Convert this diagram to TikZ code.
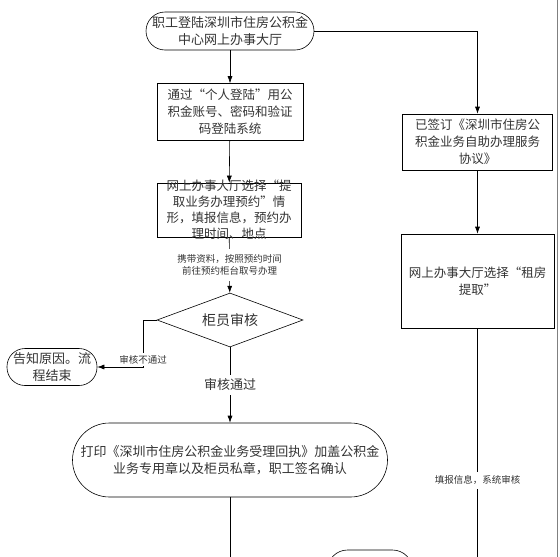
\documentclass[tikz,border=0pt]{standalone}
\usepackage{fontspec}
\setmainfont{Noto Sans CJK SC}
\usetikzlibrary{shapes.geometric,arrows.meta}

\begin{document}
\begin{tikzpicture}[x=1pt,y=-1pt,line width=0.6pt,
  box/.style={draw, align=center, inner sep=0pt, text=black!80, font=\fontsize{12.5}{17}\selectfont},
  term/.style={draw, align=center, inner sep=0pt, text=black!80, font=\fontsize{13}{17}\selectfont},
  check/.style={draw, diamond, aspect=2.7, inner sep=1pt, minimum width=146pt, minimum height=54pt, text=black!80, font=\fontsize{14}{17}\selectfont},
  note/.style={fill=white, align=center, inner sep=2pt, text=black!80, font=\fontsize{9.5}{12}\selectfont},
  arr/.style={-{Latex[length=7pt,width=5pt]}}]
\useasboundingbox (0,0) rectangle (560,557);
\clip (0,0) rectangle (560,557);
% left column
\node[term, rounded corners=19pt, minimum width=168pt, minimum height=38pt] (start) at (230,31) {职工登陆深圳市住房公积金\\中心网上办事大厅};
\node[box, minimum width=146pt, minimum height=57pt] (login) at (230,112) {通过“个人登陆”用公\\积金账号、密码和验证\\码登陆系统};
\node[box, minimum width=144pt, minimum height=54pt, inner ysep=-4pt, font=\fontsize{12.5}{16}\selectfont] (booking) at (229,210) {网上办事大厅选择“提\\取业务办理预约”情\\形，填报信息，预约办\\理时间、地点};
\node[check] (audit) at (230,320) {柜员审核};
\coordinate (bend) at (143,320);
\node[term, rounded corners=18pt, minimum width=90pt, minimum height=37pt] (reject) at (52,367) {告知原因。流\\程结束};
\node[term, rounded corners=37pt, minimum width=315pt, minimum height=74pt] (receipt) at (230,460) {打印《深圳市住房公积金业务受理回执》加盖公积金\\业务专用章以及柜员私章，职工签名确认};
% right column
\node[box, minimum width=150pt, minimum height=56pt] (agreed) at (477.5,142) {已签订《深圳市住房公\\积金业务自助办理服务\\协议》};
\node[box, minimum width=153pt, minimum height=94pt] (rent) at (477.5,281) {网上办事大厅选择“租房\\提取”};
\node[term, rounded corners=20pt, minimum width=85pt, minimum height=40pt] (done) at (370,570) {};
% connectors
\draw[arr] (start) -- (login);
\draw[arr] (login) -- (booking);
\draw[arr] (booking) -- node[note, inner ysep=6pt] (bring) {携带资料，按照预约时间\\前往预约柜台取号办理} (audit);
\draw[arr] (audit.west) -- (bend) |- node[note, pos=0.42] (nopass) {审核不通过} (reject);
\draw[arr] (audit) -- node[note, font=\fontsize{13}{16}\selectfont, inner ysep=4pt] (pass) {审核通过} (receipt);
\draw[arr] (receipt) |- (done);
\draw[arr] (start.east) -| (agreed);
\draw[arr] (agreed) -- (rent);
\draw[arr] (rent) |- node[note, pos=0.314, inner ysep=4pt] (fill) {填报信息，系统审核} (done);
\draw[gray] (557.5,0) -- (557.5,557);
\end{tikzpicture}
\end{document}
